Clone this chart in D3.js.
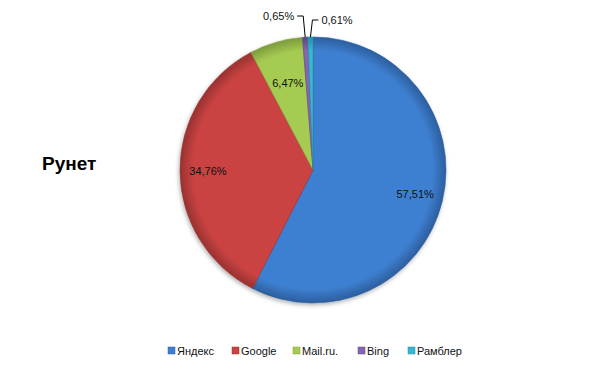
<!DOCTYPE html>
<html>
<head>
<meta charset="utf-8">
<script src="https://cdn.jsdelivr.net/npm/d3@7"></script>
<style>
  body { margin: 0; background: #fff; }
  svg { font-family: "Liberation Sans", Arial, sans-serif; }
</style>
</head>
<body>
<div id="chart-area"></div>
<script>
// data
var engines = ['Яндекс', 'Google', 'Mail.ru.', 'Bing', 'Рамблер'];
var shares = [57.51, 34.76, 6.47, 0.65, 0.61];
var shareLabels = ['57,51%', '34,76%', '6,47%', '0,65%', '0,61%'];
var colors = ['#3e7fd0', '#ca4342', '#a5cb52', '#8566b0', '#37b6d2'];
var darkColors = ['#2c5e9e', '#983230', '#7c9a3c', '#5f4686', '#268ea8'];

var width = 605, height = 365;
var cx = 313, cy = 170, radius = 133;

var svg = d3.select('#chart-area')
	.append('svg')
		.attr('width', width)
		.attr('height', height);

var defs = svg.append('defs');

// gradients are in the pie group's coordinates (centre at 0,0)
colors.forEach(function(c, i) {
	var grad = defs.append('radialGradient')
		.attr('id', 'grad' + i)
		.attr('gradientUnits', 'userSpaceOnUse')
		.attr('cx', 0).attr('cy', 0).attr('r', radius);
	grad.append('stop').attr('offset', '0%').attr('stop-color', c);
	grad.append('stop').attr('offset', '90%').attr('stop-color', c);
	grad.append('stop').attr('offset', '100%').attr('stop-color', darkColors[i]);
});

var shadow = defs.append('filter').attr('id', 'shadow')
	.attr('x', '-20%').attr('y', '-20%').attr('width', '140%').attr('height', '140%');
shadow.append('feDropShadow')
	.attr('dx', -1).attr('dy', 2).attr('stdDeviation', 2)
	.attr('flood-color', '#000').attr('flood-opacity', 0.3);

var data = engines.map(function(e, i) {
	return { name: e, value: shares[i], label: shareLabels[i], i: i };
});

var pie = d3.pie()
	.sort(null)
	.value(function(d) { return d.value; });

var arcs = pie(data);

var arc = d3.arc().innerRadius(0).outerRadius(radius);
var g = svg.append('g').attr('transform', 'translate(' + cx + ',' + cy + ')');

g.append('g').attr('filter', 'url(#shadow)')
	.selectAll('path')
	.data(arcs)
	.enter().append('path')
		.attr('d', arc)
		.attr('fill', function(d) { return 'url(#grad' + d.data.i + ')'; })
		.attr('stroke', function(d) { return darkColors[d.data.i]; })
		.attr('stroke-width', 0.6);

// inside labels for big slices
var labelArc = d3.arc().innerRadius(radius * 0.79).outerRadius(radius * 0.79);
var mailArc = d3.arc().innerRadius(radius * 0.68).outerRadius(radius * 0.68);

g.selectAll('text.inside')
	.data(arcs.slice(0, 3))
	.enter().append('text')
		.attr('class', 'inside')
		.attr('transform', function(d, i) {
			var p = i === 2 ? mailArc.centroid(d) : labelArc.centroid(d);
			return 'translate(' + p + ')';
		})
		.attr('dy', '0.35em')
		.attr('text-anchor', 'middle')
		.attr('font-size', '11px')
		.attr('fill', '#111')
		.text(function(d) { return d.data.label; });

// leader lines for small slices
var edgeArc = d3.arc().innerRadius(radius).outerRadius(radius);
var small = arcs.slice(3);
small.forEach(function(d, k) {
	var p = edgeArc.centroid(d);
	var topY = k === 0 ? -radius - 21 : -radius - 17;
	var dir = k === 0 ? -1 : 1;
	var x1 = p[0] + (k === 0 ? -2 : 2);
	g.append('polyline')
		.attr('points', [[p[0], p[1]], [x1, topY], [x1 + dir * 6, topY]].map(String).join(' '))
		.attr('fill', 'none')
		.attr('stroke', '#000')
		.attr('stroke-width', 1);
	g.append('text')
		.attr('x', x1 + dir * 9)
		.attr('y', topY)
		.attr('dy', '0.35em')
		.attr('text-anchor', k === 0 ? 'end' : 'start')
		.attr('font-size', '11px')
		.attr('fill', '#111')
		.text(d.data.label);
});

// title
svg.append('text')
	.attr('x', 42)
	.attr('y', 170)
	.attr('font-size', '19px')
	.attr('font-weight', 'bold')
	.attr('fill', '#000')
	.text('Рунет');

// legend
var legendX = [168, 232, 293, 358, 408];
var legend = svg.append('g').attr('class', 'legend');
var items = legend.selectAll('g')
	.data(data)
	.enter().append('g')
		.attr('transform', function(d, i) { return 'translate(' + legendX[i] + ', 351)'; });

items.append('rect')
	.attr('x', 0).attr('y', -4)
	.attr('width', 7).attr('height', 7)
	.attr('fill', function(d) { return colors[d.i]; })
	.attr('stroke', function(d) { return darkColors[d.i]; })
	.attr('stroke-width', 0.5);

items.append('text')
	.attr('x', 9)
	.attr('dy', '0.35em')
	.attr('font-size', '11px')
	.attr('fill', '#111')
	.text(function(d) { return d.name; });
</script>
</body>
</html>
